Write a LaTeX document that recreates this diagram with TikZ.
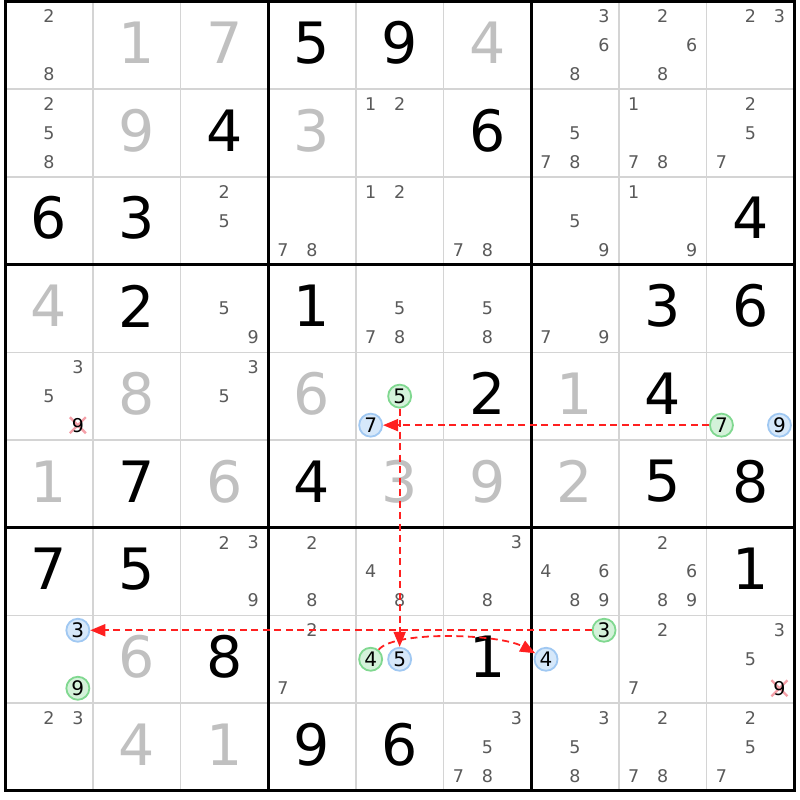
\documentclass[tikz,border=0pt]{standalone}
\usepackage{fontspec}
\setmainfont{DejaVu Sans}
\usetikzlibrary{arrows.meta}
\definecolor{candgray}{HTML}{5A5A5A}
\definecolor{solvedgray}{HTML}{C0C0C0}
\definecolor{thingrid}{HTML}{D4D4D4}
\definecolor{grnline}{HTML}{80D890}
\definecolor{grnfill}{HTML}{D4F2DA}
\definecolor{bluline}{HTML}{A0C8F2}
\definecolor{blufill}{HTML}{D6E8FA}
\definecolor{linkred}{HTML}{FF2020}
\definecolor{xred}{HTML}{F4A0A8}
\tikzset{
  cand/.style={inner sep=0pt, text=candgray, font=\fontsize{17.5}{17.5}\selectfont},
  grn/.style={circle, draw=grnline, fill=grnfill, line width=1.8pt, minimum size=23pt, text=black, font=\fontsize{20}{20}\selectfont},
  blu/.style={circle, draw=bluline, fill=blufill, line width=1.8pt, minimum size=23pt, text=black, font=\fontsize{20}{20}\selectfont},
  elim/.style={text=black, font=\fontsize{19}{19}\selectfont},
  given/.style={inner sep=0pt, font=\fontsize{57}{57}\selectfont, text=black},
  solved/.style={given, text=solvedgray},
  thingridline/.style={draw=thingrid, line width=1.6pt},
  thickgridline/.style={draw=black, line width=3pt, line cap=rect},
  link/.style={draw=linkred, line width=1.8pt, dash pattern=on 7pt off 4.5pt, -{Triangle[length=15pt,width=12pt]}},
  xmark/.style={draw=xred, line width=2.4pt},
}
\newcommand\cnd[4][]{%
  \pgfmathsetmacro\myccx{5+(#3+0.5)*87.7+(mod(#4-1,3)-1)*29}%
  \pgfmathsetmacro\myccy{1.5+(#2+0.5)*87.7+(int((#4-1)/3)-1)*29}%
  \node[cand,#1] (k#2#3#4) at (\myccx,\myccy) {#4};}
\newcommand\elimcnd[3]{%
  \pgfmathsetmacro\myccx{5+(#2+0.5)*87.7+(mod(#3-1,3)-1)*29}%
  \pgfmathsetmacro\myccy{1.5+(#1+0.5)*87.7+(int((#3-1)/3)-1)*29}%
  \draw[xmark] (\myccx-8,\myccy-8) -- (\myccx+8,\myccy+8);
  \draw[xmark] (\myccx-8,\myccy+8) -- (\myccx+8,\myccy-8);
  \node[cand,elim] (k#1#2#3) at (\myccx,\myccy) {#3};}
\newcommand\bigdig[4][given]{%
  \pgfmathsetmacro\myccx{5+(#3+0.5)*87.7}%
  \pgfmathsetmacro\myccy{1.5+(#2+0.5)*87.7-2.6}%
  \node[#1] (n#2#3) at (\myccx,\myccy) {#4};}
\begin{document}
\begin{tikzpicture}[x=1pt,y=-1pt]
\useasboundingbox (0,0) rectangle (800,800);
\fill[white] (0,0) rectangle (800,800);
\foreach \i in {1,2,4,5,7,8} {
  \draw[thingridline] ({5+\i*87.7},1.5) -- ({5+\i*87.7},790.8);
  \draw[thingridline] (5,{1.5+\i*87.7}) -- (794.3,{1.5+\i*87.7});
}
\foreach \i in {0,3,6,9} {
  \draw[thickgridline] ({5+\i*87.7},1.5) -- ({5+\i*87.7},790.8);
  \draw[thickgridline] (5,{1.5+\i*87.7}) -- (794.3,{1.5+\i*87.7});
}
% row 0
\cnd{0}{0}{2}\cnd{0}{0}{8}
\bigdig[solved]{0}{1}{1}\bigdig[solved]{0}{2}{7}
\bigdig{0}{3}{5}\bigdig{0}{4}{9}\bigdig[solved]{0}{5}{4}
\cnd{0}{6}{3}\cnd{0}{6}{6}\cnd{0}{6}{8}
\cnd{0}{7}{2}\cnd{0}{7}{6}\cnd{0}{7}{8}
\cnd{0}{8}{2}\cnd{0}{8}{3}
% row 1
\cnd{1}{0}{2}\cnd{1}{0}{5}\cnd{1}{0}{8}
\bigdig[solved]{1}{1}{9}\bigdig{1}{2}{4}\bigdig[solved]{1}{3}{3}
\cnd{1}{4}{1}\cnd{1}{4}{2}
\bigdig{1}{5}{6}
\cnd{1}{6}{5}\cnd{1}{6}{7}\cnd{1}{6}{8}
\cnd{1}{7}{1}\cnd{1}{7}{7}\cnd{1}{7}{8}
\cnd{1}{8}{2}\cnd{1}{8}{5}\cnd{1}{8}{7}
% row 2
\bigdig{2}{0}{6}\bigdig{2}{1}{3}
\cnd{2}{2}{2}\cnd{2}{2}{5}
\cnd{2}{3}{7}\cnd{2}{3}{8}
\cnd{2}{4}{1}\cnd{2}{4}{2}
\cnd{2}{5}{7}\cnd{2}{5}{8}
\cnd{2}{6}{5}\cnd{2}{6}{9}
\cnd{2}{7}{1}\cnd{2}{7}{9}
\bigdig{2}{8}{4}
% row 3
\bigdig[solved]{3}{0}{4}\bigdig{3}{1}{2}
\cnd{3}{2}{5}\cnd{3}{2}{9}
\bigdig{3}{3}{1}
\cnd{3}{4}{5}\cnd{3}{4}{7}\cnd{3}{4}{8}
\cnd{3}{5}{5}\cnd{3}{5}{8}
\cnd{3}{6}{7}\cnd{3}{6}{9}
\bigdig{3}{7}{3}\bigdig{3}{8}{6}
% row 4
\cnd{4}{0}{3}\cnd{4}{0}{5}\elimcnd{4}{0}{9}
\bigdig[solved]{4}{1}{8}
\cnd{4}{2}{3}\cnd{4}{2}{5}
\bigdig[solved]{4}{3}{6}
\cnd[grn]{4}{4}{5}\cnd[blu]{4}{4}{7}
\bigdig{4}{5}{2}\bigdig[solved]{4}{6}{1}\bigdig{4}{7}{4}
\cnd[grn]{4}{8}{7}\cnd[blu]{4}{8}{9}
% row 5
\bigdig[solved]{5}{0}{1}\bigdig{5}{1}{7}\bigdig[solved]{5}{2}{6}
\bigdig{5}{3}{4}\bigdig[solved]{5}{4}{3}\bigdig[solved]{5}{5}{9}
\bigdig[solved]{5}{6}{2}\bigdig{5}{7}{5}\bigdig{5}{8}{8}
% row 6
\bigdig{6}{0}{7}\bigdig{6}{1}{5}
\cnd{6}{2}{2}\cnd{6}{2}{3}\cnd{6}{2}{9}
\cnd{6}{3}{2}\cnd{6}{3}{8}
\cnd{6}{4}{4}\cnd{6}{4}{8}
\cnd{6}{5}{3}\cnd{6}{5}{8}
\cnd{6}{6}{4}\cnd{6}{6}{6}\cnd{6}{6}{8}\cnd{6}{6}{9}
\cnd{6}{7}{2}\cnd{6}{7}{6}\cnd{6}{7}{8}\cnd{6}{7}{9}
\bigdig{6}{8}{1}
% row 7
\cnd[blu]{7}{0}{3}\cnd[grn]{7}{0}{9}
\bigdig[solved]{7}{1}{6}\bigdig{7}{2}{8}
\cnd{7}{3}{2}\cnd{7}{3}{7}
\cnd[grn]{7}{4}{4}\cnd[blu]{7}{4}{5}
\bigdig{7}{5}{1}
\cnd[grn]{7}{6}{3}\cnd[blu]{7}{6}{4}
\cnd{7}{7}{2}\cnd{7}{7}{7}
\cnd{7}{8}{3}\cnd{7}{8}{5}\elimcnd{7}{8}{9}
% row 8
\cnd{8}{0}{2}\cnd{8}{0}{3}
\bigdig[solved]{8}{1}{4}\bigdig[solved]{8}{2}{1}
\bigdig{8}{3}{9}\bigdig{8}{4}{6}
\cnd{8}{5}{3}\cnd{8}{5}{5}\cnd{8}{5}{7}\cnd{8}{5}{8}
\cnd{8}{6}{3}\cnd{8}{6}{5}\cnd{8}{6}{8}
\cnd{8}{7}{2}\cnd{8}{7}{7}\cnd{8}{7}{8}
\cnd{8}{8}{2}\cnd{8}{8}{5}\cnd{8}{8}{7}
% links
\draw[link] (k487) -- (k447);
\draw[link] (k445) -- (k745);
\draw[link] (k763) -- (k703);
\draw[link] (k744) .. controls (395,630) and (500,634) .. (k764);
\end{tikzpicture}
\end{document}
